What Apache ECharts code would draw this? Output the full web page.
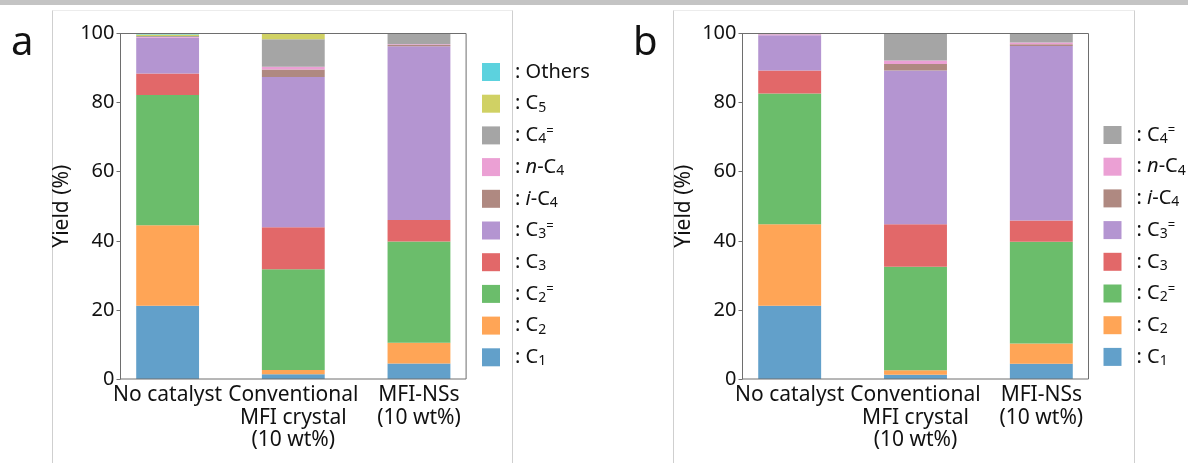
<!DOCTYPE html>
<html>
<head>
<meta charset="utf-8">
<script src="https://cdn.jsdelivr.net/npm/echarts@6/dist/echarts.min.js"></script>
<style>
  html, body { margin: 0; padding: 0; background: #fff; }
  #chart { width: 1188px; height: 463px; }
</style>
</head>
<body>
<div id="chart"></div>
<script>
// categories along x, one value per species (bottom -> top of the stack)
var categories = ['No catalyst', 'Conventional\nMFI crystal\n(10 wt%)', 'MFI-NSs\n(10 wt%)'];
var species = ['C1', 'C2', 'C2=', 'C3', 'C3=', 'i-C4', 'n-C4', 'C4=', 'C5', 'Others'];
var yTickStep = 20;

// panel a: yields (%) in species order
var noCatalystA = [21.2, 23.3, 37.7, 6.2, 10.4, 0, 0.2, 0.3, 0.4, 0.3];
var conventionalA = [1.4, 1.2, 29.2, 12.1, 43.5, 2.2, 0.8, 7.9, 1.7, 0];
var mfiNsA = [4.5, 6.0, 29.3, 6.2, 50.3, 0.4, 0.2, 3.1, 0, 0];

// panel b: yields (%) in species order
var noCatalystB = [21.2, 23.6, 37.8, 6.7, 10.2, 0, 0.3, 0.2, 0, 0];
var conventionalB = [1.2, 1.3, 30.0, 12.3, 44.5, 1.9, 1.0, 7.8, 0, 0];
var mfiNsB = [4.4, 5.9, 29.4, 6.2, 50.5, 0.5, 0.5, 2.6, 0, 0];

var legendA = ['Others', 'C5', 'C4=', 'n-C4', 'i-C4', 'C3=', 'C3', 'C2=', 'C2', 'C1'];
var legendB = ['C4=', 'n-C4', 'i-C4', 'C3=', 'C3', 'C2=', 'C2', 'C1'];

// tab10 at alpha 0.7 on white
var colors = ['#62a0ca', '#ffa556', '#6bbd6b', '#e26869', '#b495d1',
              '#af8981', '#eba0d4', '#a5a5a5', '#d0d164', '#5cd2de'];

var FONT = 'Noto Sans';
var AXIS = '#6e6e6e';

var legendText = {
    'Others': '{sp| }{n|: Others}',
    'C5': '{sp| }{n|: C}{sub|5}',
    'C4=': '{sp| }{n|: C}{sub|4}{sup|=}',
    'n-C4': '{sp| }{n|: }{it|n}{n|-C}{sub|4}',
    'i-C4': '{sp| }{n|: }{it|i}{n|-C}{sub|4}',
    'C3=': '{sp| }{n|: C}{sub|3}{sup|=}',
    'C3': '{sp| }{n|: C}{sub|3}',
    'C2=': '{sp| }{n|: C}{sub|2}{sup|=}',
    'C2': '{sp| }{n|: C}{sub|2}',
    'C1': '{sp| }{n|: C}{sub|1}'
};
var legendRich = {
    sp: { width: 10, fontSize: 20, lineHeight: 22 },
    n: { fontSize: 20, lineHeight: 22, color: '#111', fontFamily: FONT },
    it: { fontSize: 20, lineHeight: 22, color: '#111', fontFamily: FONT, fontStyle: 'italic' },
    sub: { fontSize: 14, lineHeight: 12, color: '#111', fontFamily: FONT, verticalAlign: 'bottom' },
    sup: { fontSize: 13, lineHeight: 12, color: '#111', fontFamily: FONT, verticalAlign: 'top' }
};

function makeLegend(names, left, top) {
    return {
        orient: 'vertical',
        left: left,
        top: top,
        data: names,
        itemWidth: 18,
        itemHeight: 18,
        itemGap: 9.7,
        icon: 'rect',
        selectedMode: false,
        formatter: function (name) { return legendText[name]; },
        textStyle: { rich: legendRich, fontSize: 20, lineHeight: 22 }
    };
}

// each panel: a "frame" grid holding the visible y axis + box,
// and a wider "bars" grid whose category bands match matplotlib's margins
function panelGrids(frameLeft, frameWidth) {
    var band = frameWidth / 2.75;
    var barsLeft = frameLeft + 0.375 * band - band / 2;
    return [
        { left: frameLeft, top: 33.5, width: frameWidth, height: 345.5, show: true, z: 5,
          borderColor: AXIS, borderWidth: 1, backgroundColor: 'transparent' },
        { left: barsLeft, top: 33.5, width: band * 3, height: 345.5 }
    ];
}

function panelXAxes(g) {
    return [
        { gridIndex: g, type: 'value', show: false, min: 0, max: 1 },
        {
            gridIndex: g + 1,
            type: 'category',
            data: categories,
            axisLine: { show: false },
            axisTick: { alignWithLabel: true, length: 4, lineStyle: { color: AXIS } },
            axisLabel: {
                interval: 0,
                fontSize: 21,
                lineHeight: 22.5,
                fontFamily: FONT,
                color: '#111',
                margin: 5
            }
        }
    ];
}

function panelYAxes(g) {
    return [
        {
            gridIndex: g,
            type: 'value',
            min: 0,
            max: 100,
            interval: yTickStep,
            name: 'Yield (%)',
            nameLocation: 'middle',
            nameRotate: 90,
            nameGap: 48,
            nameTextStyle: { fontSize: 21, fontFamily: FONT, color: '#111' },
            splitLine: { show: false },
            axisLine: { show: true, onZero: false, lineStyle: { color: AXIS, width: 1 } },
            axisTick: { show: true, length: 4, lineStyle: { color: AXIS } },
            axisLabel: { fontSize: 20, fontFamily: FONT, color: '#111', margin: 6 }
        },
        { gridIndex: g + 1, type: 'value', min: 0, max: 100, show: false }
    ];
}

function makeSeries(axisIndex, bars) {
    return species.map(function (sp, i) {
        return {
            name: sp,
            type: 'bar',
            stack: 'yield' + axisIndex,
            xAxisIndex: axisIndex,
            yAxisIndex: axisIndex,
            barWidth: '50%',
            itemStyle: { color: colors[i] },
            emphasis: { disabled: true },
            data: bars.map(function (b) { return b[i]; })
        };
    });
}

var chart = echarts.init(document.getElementById('chart'), null, { renderer: 'canvas' });

var option = {
    animation: false,
    backgroundColor: '#fff',
    textStyle: { fontFamily: FONT },
    grid: panelGrids(120.5, 345.6).concat(panelGrids(742.5, 346)),
    xAxis: panelXAxes(0).concat(panelXAxes(2)),
    yAxis: panelYAxes(0).concat(panelYAxes(2)),
    legend: [makeLegend(legendA, 477, 56), makeLegend(legendB, 1098.5, 119)],
    series: makeSeries(1, [noCatalystA, conventionalA, mfiNsA])
        .concat(makeSeries(3, [noCatalystB, conventionalB, mfiNsB])),
    graphic: [
        { type: 'rect', shape: { x: 0, y: 0, width: 1188, height: 5 }, style: { fill: '#c4c4c4' }, silent: true },
        { type: 'line', shape: { x1: 52.5, y1: 10.5, x2: 512.5, y2: 10.5 }, style: { stroke: '#ececec', lineWidth: 1 }, silent: true },
        { type: 'line', shape: { x1: 673.5, y1: 10.5, x2: 1134.5, y2: 10.5 }, style: { stroke: '#ececec', lineWidth: 1 }, silent: true },
        { type: 'line', shape: { x1: 52.5, y1: 10.5, x2: 52.5, y2: 463 }, style: { stroke: '#cfcfcf', lineWidth: 1 }, silent: true },
        { type: 'line', shape: { x1: 512.5, y1: 10.5, x2: 512.5, y2: 463 }, style: { stroke: '#cfcfcf', lineWidth: 1 }, silent: true },
        { type: 'line', shape: { x1: 673.5, y1: 10.5, x2: 673.5, y2: 463 }, style: { stroke: '#cfcfcf', lineWidth: 1 }, silent: true },
        { type: 'line', shape: { x1: 1134.5, y1: 10.5, x2: 1134.5, y2: 463 }, style: { stroke: '#cfcfcf', lineWidth: 1 }, silent: true },
        { type: 'text', left: 11, top: 24, style: { text: 'a', fontSize: 40, fontFamily: FONT, fill: '#111' }, silent: true },
        { type: 'text', left: 633, top: 24, style: { text: 'b', fontSize: 40, fontFamily: FONT, fill: '#111' }, silent: true }
    ]
};

chart.setOption(option);
</script>
</body>
</html>
